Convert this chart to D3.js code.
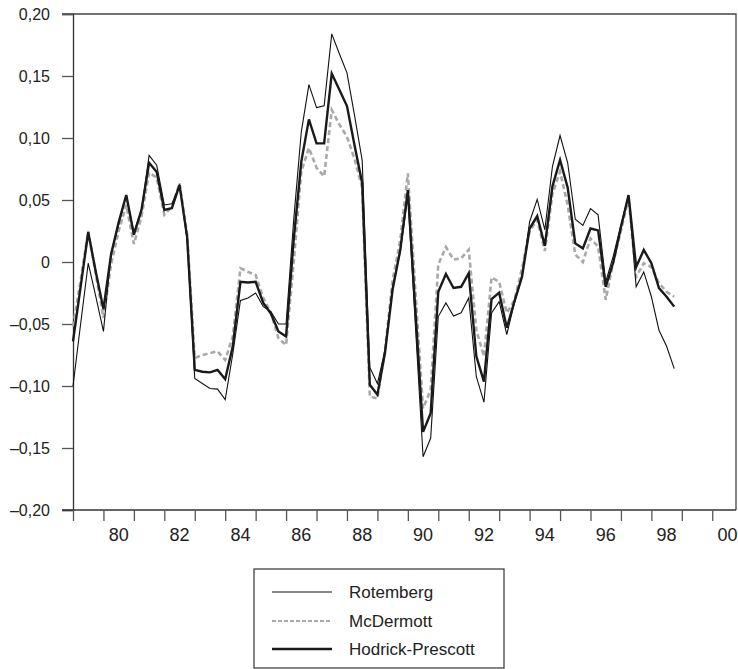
<!DOCTYPE html>
<html>
<head>
<meta charset="utf-8">
<style>
  body { margin: 0; background: #fff; }
  text { font-family: "Liberation Sans", Arial, sans-serif; fill: #222; }
</style>
</head>
<body>
<script src="https://d3js.org/d3.v7.min.js"></script>
<script>
// quarterly observations, first one is 1979 Q1
var startYear = 1979;

var rotemberg = [
  -0.100, -0.050, -0.001, -0.028, -0.056, 0.007, 0.030, 0.054, 0.024, 0.042,
  0.086, 0.078, 0.046, 0.047, 0.062, 0.018, -0.094, -0.098, -0.102, -0.1025,
  -0.111, -0.074, -0.031, -0.029, -0.025, -0.036, -0.040, -0.050, -0.050, 0.034,
  0.105, 0.143, 0.1245, 0.126, 0.184, 0.168, 0.1525, 0.118, 0.082, -0.085,
  -0.098, -0.071, -0.020, 0.008, 0.053, -0.052, -0.157, -0.142, -0.044, -0.033,
  -0.0435, -0.041, -0.029, -0.0925, -0.113, -0.041, -0.032, -0.0585, -0.033, -0.012,
  0.0325, 0.0505, 0.026, 0.077, 0.102, 0.080, 0.0345, 0.0295, 0.043, 0.038,
  -0.016, 0.005, 0.030, 0.054, -0.020, -0.008, -0.028, -0.055, -0.068, -0.086
];

var mcdermott = [
  -0.052, -0.015, 0.025, -0.010, -0.045, -0.002, 0.025, 0.046, 0.0145, 0.0365,
  0.072, 0.068, 0.038, 0.0445, 0.0635, 0.022, -0.0775, -0.075, -0.0735, -0.072,
  -0.079, -0.060, -0.005, -0.008, -0.0105, -0.029, -0.041, -0.0615, -0.067, 0.000,
  0.073, 0.092, 0.076, 0.069, 0.1225, 0.111, 0.101, 0.083, 0.060, -0.1085,
  -0.110, -0.071, -0.0145, 0.0175, 0.0715, -0.024, -0.118, -0.103, -0.002, 0.012,
  0.002, 0.003, 0.010, -0.055, -0.076, -0.0125, -0.016, -0.041, -0.031, -0.005,
  0.025, 0.034, 0.009, 0.055, 0.073, 0.046, 0.006, 0.000, 0.019, 0.0125,
  -0.0305, 0.000, 0.025, 0.0515, -0.012, -0.001, -0.004, -0.017, -0.024, -0.028
];

var hodrick = [
  -0.064, -0.020, 0.024, -0.008, -0.038, 0.006, 0.032, 0.054, 0.022, 0.042,
  0.080, 0.0725, 0.042, 0.0435, 0.062, 0.020, -0.087, -0.0885, -0.089, -0.087,
  -0.0945, -0.068, -0.016, -0.0165, -0.016, -0.033, -0.0415, -0.056, -0.060, 0.018,
  0.081, 0.115, 0.0957, 0.0957, 0.152, 0.139, 0.1258, 0.094, 0.0635, -0.099,
  -0.107, -0.073, -0.022, 0.0097, 0.058, -0.040, -0.137, -0.122, -0.024, -0.0097,
  -0.021, -0.020, -0.009, -0.076, -0.0965, -0.030, -0.0247, -0.053, -0.032, -0.0118,
  0.027, 0.037, 0.013, 0.061, 0.0823, 0.060, 0.015, 0.011, 0.027, 0.0255,
  -0.020, 0.000, 0.028, 0.054, -0.004, 0.0097, -0.001, -0.021, -0.028, -0.036
];

var yTicks = [-0.20, -0.15, -0.10, -0.05, 0, 0.05, 0.10, 0.15, 0.20];
var yearTicks = d3.range(1979, 2001);
var labelYears = [1980, 1982, 1984, 1986, 1988, 1990, 1992, 1994, 1996, 1998, 2000];
var xTickLabels = ["80", "82", "84", "86", "88", "90", "92", "94", "96", "98", "00"];

var seriesNames = ["Rotemberg", "McDermott", "Hodrick-Prescott"];

var width = 738, height = 669;
var svg = d3.select("body").append("svg")
            .attr("width", width)
            .attr("height", height);

var plot = {left: 73, right: 736, top: 14, bottom: 510};

var x = d3.scaleLinear().domain([1979, 2000.78]).range([plot.left, plot.right]);
var y = d3.scaleLinear().domain([-0.2, 0.2]).range([plot.bottom, plot.top]);

// frame (top and right sides)
svg.append("path")
   .attr("d", "M" + (plot.left - 11) + "," + plot.top + "H" + plot.right + "V" + plot.bottom)
   .attr("fill", "none")
   .attr("stroke", "#444")
   .attr("stroke-width", 1.3);

// y axis
var fmt = function(d) {
  if (d === 0) return "0";
  return (d < 0 ? "\u2013" : "") + d3.format(".2f")(Math.abs(d)).replace(".", ",");
};
var yAxis = svg.append("g")
   .attr("transform", "translate(" + plot.left + ",0)")
   .call(d3.axisLeft(y).tickValues(yTicks).tickSize(11).tickPadding(12).tickFormat(fmt));
yAxis.select(".domain").attr("stroke", "#333").attr("stroke-width", 1.3);
yAxis.selectAll(".tick line").attr("stroke", "#555").attr("stroke-width", 1.3);
yAxis.selectAll(".tick text").attr("font-size", "16px").attr("fill", "#222")
     .style("font-family", "'Liberation Sans', Arial, sans-serif");

// x axis
var xAxis = svg.append("g")
   .attr("transform", "translate(0," + plot.bottom + ")")
   .call(d3.axisBottom(x).tickValues(yearTicks).tickSize(11).tickFormat(""));
xAxis.select(".domain").attr("stroke", "#333").attr("stroke-width", 1.3)
     .attr("d", "M" + (plot.left - 11) + ",0H" + plot.right);
xAxis.selectAll(".tick line").attr("stroke", "#555").attr("stroke-width", 1.3);

svg.selectAll(".xlab")
   .data(labelYears)
   .enter()
   .append("text")
   .attr("class", "xlab")
   .attr("x", function(d) { return x(d + 0.5); })
   .attr("y", 541)
   .attr("text-anchor", "middle")
   .attr("font-size", "18px")
   .text(function(d, i) { return xTickLabels[i]; });

// lines
var line = d3.line()
   .x(function(d, i) { return x(startYear + i / 4); })
   .y(function(d) { return y(d); });

var styles = [
  { data: rotemberg, color: "#111", width: 1.1, dash: null },
  { data: mcdermott, color: "#a9a9a9", width: 2.6, dash: "5,3" },
  { data: hodrick,   color: "#1a1a1a", width: 2.4, dash: null }
];

// draw McDermott first, then Rotemberg, then HP on top
[1, 0, 2].forEach(function(k) {
  var s = styles[k];
  svg.append("path")
     .datum(s.data)
     .attr("d", line)
     .attr("fill", "none")
     .attr("stroke", s.color)
     .attr("stroke-width", s.width)
     .attr("stroke-linejoin", "miter")
     .attr("stroke-dasharray", s.dash);
});

// legend
var legend = svg.append("g");
legend.append("rect")
      .attr("x", 254).attr("y", 569)
      .attr("width", 250).attr("height", 99)
      .attr("fill", "none")
      .attr("stroke", "#333")
      .attr("stroke-width", 1.2);

var legY = [592, 621, 649];
seriesNames.forEach(function(name, i) {
  var s = styles[i];
  legend.append("line")
        .attr("x1", 272).attr("x2", 332)
        .attr("y1", legY[i]).attr("y2", legY[i])
        .attr("stroke", s.color)
        .attr("stroke-width", i === 1 ? 2 : s.width)
        .attr("stroke-dasharray", i === 1 ? "4,2" : null);
  legend.append("text")
        .attr("x", 349)
        .attr("y", legY[i] + 6)
        .attr("font-size", "17px")
        .text(name);
});
</script>
</body>
</html>
